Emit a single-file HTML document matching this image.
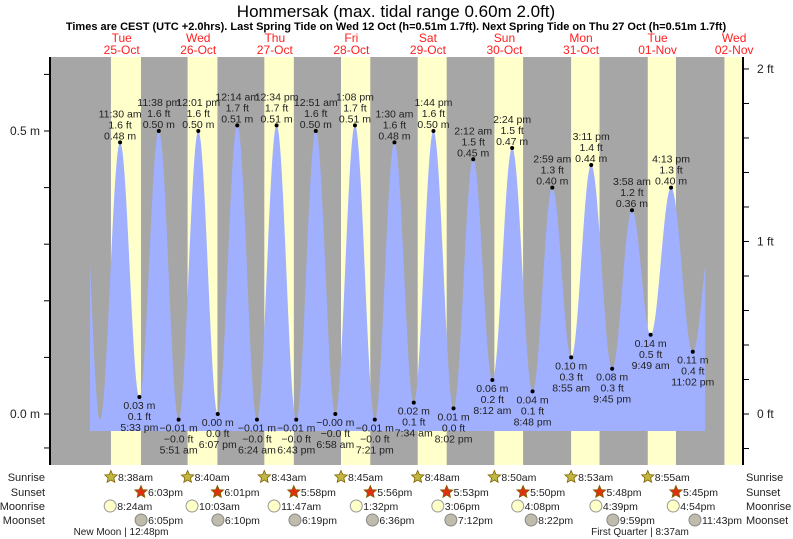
<!DOCTYPE html>
<html><head><meta charset="utf-8"><style>
html,body{margin:0;padding:0;background:#fff;}
svg{display:block;font-family:"Liberation Sans",sans-serif;}
</style></head><body>
<svg id="chart" width="793" height="539" viewBox="0 0 793 539" xmlns="http://www.w3.org/2000/svg">
<text x="396" y="17" font-size="17" text-anchor="middle" fill="#000">Hommersak (max. tidal range 0.60m 2.0ft)</text>
<text x="396" y="30" font-size="11" font-weight="bold" text-anchor="middle" fill="#000">Times are CEST (UTC +2.0hrs). Last Spring Tide on Wed 12 Oct (h=0.51m 1.7ft). Next Spring Tide on Thu 27 Oct (h=0.51m 1.7ft)</text>
<g id="plot"></g>
</svg>
<script>
// Data (hours since 25-Oct 00:00 local)
const dayNames = ["Tue","Wed","Thu","Fri","Sat","Sun","Mon","Tue","Wed"];
const dayDates = ["25-Oct","26-Oct","27-Oct","28-Oct","29-Oct","30-Oct","31-Oct","01-Nov","02-Nov"];
const sunriseHours = [8.633,8.667,8.717,8.75,8.8,8.833,8.883,8.917,8.95];
const sunsetHours = [18.05,18.017,17.967,17.933,17.883,17.833,17.8,17.75,17.7];
const sunriseLabels = ["8:38am","8:40am","8:43am","8:45am","8:48am","8:50am","8:53am","8:55am"];
const sunsetLabels = ["6:03pm","6:01pm","5:58pm","5:56pm","5:53pm","5:50pm","5:48pm","5:45pm"];
const moonriseHours = [8.4,10.05,11.783,13.533,15.1,16.133,16.65,16.9];
const moonriseLabels = ["8:24am","10:03am","11:47am","1:32pm","3:06pm","4:08pm","4:39pm","4:54pm"];
const moonsetHours = [18.083,18.167,18.317,18.6,19.2,20.367,21.983,23.717];
const moonsetLabels = ["6:05pm","6:10pm","6:19pm","6:36pm","7:12pm","8:22pm","9:59pm","11:43pm"];
const tideHours = [-0.5,5.2,11.5,17.55,23.633,29.85,36.017,42.117,48.233,54.4,60.567,66.717,72.85,78.967,85.133,91.35,97.5,103.567,109.733,116.033,122.2,128.2,134.4,140.8,146.983,152.917,159.183,165.75,171.967,177.817,184.217,191.033,197.2];
const tideHeights = [0.47,-0.01,0.48,0.03,0.50,-0.01,0.50,0.00,0.51,-0.01,0.51,-0.01,0.50,-0.00,0.51,-0.01,0.48,0.02,0.50,0.01,0.45,0.06,0.47,0.04,0.40,0.10,0.44,0.08,0.36,0.14,0.40,0.11,0.33];
const tideTimeLabels = ["","","11:30 am","5:33 pm","11:38 pm","5:51 am","12:01 pm","6:07 pm","12:14 am","6:24 am","12:34 pm","6:43 pm","12:51 am","6:58 am","1:08 pm","7:21 pm","1:30 am","7:34 am","1:44 pm","8:02 pm","2:12 am","8:12 am","2:24 pm","8:48 pm","2:59 am","8:55 am","3:11 pm","9:45 pm","3:58 am","9:49 am","4:13 pm","11:02 pm",""];
const tideFtLabels = ["","","1.6 ft","0.1 ft","1.6 ft","\u22120.0 ft","1.6 ft","0.0 ft","1.7 ft","\u22120.0 ft","1.7 ft","\u22120.0 ft","1.6 ft","\u22120.0 ft","1.7 ft","\u22120.0 ft","1.6 ft","0.1 ft","1.6 ft","0.0 ft","1.5 ft","0.2 ft","1.5 ft","0.1 ft","1.3 ft","0.3 ft","1.4 ft","0.3 ft","1.2 ft","0.5 ft","1.3 ft","0.4 ft",""];
const tideMLabels = ["","","0.48 m","0.03 m","0.50 m","\u22120.01 m","0.50 m","0.00 m","0.51 m","\u22120.01 m","0.51 m","\u22120.01 m","0.50 m","\u22120.00 m","0.51 m","\u22120.01 m","0.48 m","0.02 m","0.50 m","0.01 m","0.45 m","0.06 m","0.47 m","0.04 m","0.40 m","0.10 m","0.44 m","0.08 m","0.36 m","0.14 m","0.40 m","0.11 m",""];
const curveStart = 2.07, curveEnd = 194.9;

const NS="http://www.w3.org/2000/svg";
const g=document.getElementById('plot');
const X0=50,X1=743,Y0=57,Y1=465;
const x=t=>83.4+t*3.19;
const y=m=>414-m*566;
function mk(tag,attrs,parent){const e=document.createElementNS(NS,tag);for(const k in attrs)e.setAttribute(k,attrs[k]);(parent||g).appendChild(e);return e;}
function txt(s,px,py,attrs){const e=mk('text',Object.assign({x:px,y:py,'font-size':10.5,'text-anchor':'middle',fill:'#222'},attrs||{}));e.textContent=s;return e;}

let bg=mk('rect',{x:X0,y:Y0,width:X1-X0,height:Y1-Y0,fill:'#a6a6a6'});


for(let d=0;d<dayNames.length;d++){
  const a=x(d*24+sunriseHours[d]);const b=Math.min(X1,x(d*24+sunsetHours[d]));
  if(a<X1){let r=mk('rect',{x:a,y:Y0,width:b-a,height:Y1-Y0,fill:'#ffffcc'});
  
  }
  const cx=x(d*24+12);
  let t1=txt(dayNames[d],cx,42,{'font-size':12,fill:'#ff2020'});
  
  
  let t2=txt(dayDates[d],cx,54,{'font-size':12,fill:'#ff2020'});
  
  
}
function h(t){for(let i=0;i<tideHours.length-1;i++){if(t>=tideHours[i]&&t<=tideHours[i+1]){const f=(t-tideHours[i])/(tideHours[i+1]-tideHours[i]);return tideHeights[i]+(tideHeights[i+1]-tideHeights[i])*(1-Math.cos(Math.PI*f))/2;}}return 0;}
let d='M'+x(curveStart)+' 431';
for(let t=curveStart;t<=curveEnd;t+=0.1)d+=' L'+x(t).toFixed(2)+' '+y(h(t)).toFixed(2);
d+=' L'+x(curveEnd)+' '+y(h(curveEnd))+' L'+x(curveEnd)+' 431 Z';
let area=mk('path',{d:d,fill:'#a0b0ff'});


for(let i=0;i<tideHours.length;i++){
  if(!tideTimeLabels[i])continue;
  const px=x(tideHours[i]),py=y(tideHeights[i]);
  const high=i>0&&tideHeights[i]>tideHeights[i-1];
  let dot=mk('circle',{cx:px,cy:py,r:2,fill:'#000'});
  
  
  let lines=high?[tideTimeLabels[i],tideFtLabels[i],tideMLabels[i]]:[tideMLabels[i],tideFtLabels[i],tideTimeLabels[i]];
  let base=high?py-25:py+12;
  lines.forEach((s,k)=>{let e=txt(s,px,base+k*11);
    
    });
}
let la=mk('line',{x1:X0,y1:Y0,x2:X0,y2:Y1,stroke:'#000','stroke-width':2});


let ra=mk('line',{x1:X1,y1:Y0,x2:X1,y2:Y1,stroke:'#000','stroke-width':2});


for(let k=0;k<=0.6001;k+=0.1){const yy=y(k);mk('line',{x1:X0-6,y1:yy,x2:X0,y2:yy,stroke:'#000'});}
mk('line',{x1:X0-6,y1:y(-0.06),x2:X0,y2:y(-0.06),stroke:'#000'});
let l1=txt('0.5 m',40,y(0.5)+4,{'text-anchor':'end','font-size':12});


let l2=txt('0.0 m',40,y(0)+4,{'text-anchor':'end','font-size':12});


for(let f=-0.2;f<=2.01;f+=0.2){const yy=y(f*0.3048);mk('line',{x1:X1,y1:yy,x2:X1+6,y2:yy,stroke:'#000'});}
["0 ft","1 ft","2 ft"].forEach((s,k)=>{let e=txt(s,757,y(k*0.3048)+4,{'text-anchor':'start','font-size':12});
  
  });
const rowY=[477,492,506,520];
["Sunrise","Sunset","Moonrise","Moonset"].forEach((s,k)=>{
  let a=txt(s,45,rowY[k]+4,{'text-anchor':'end','font-size':11,fill:'#222'});
  
  
  let b=txt(s,746,rowY[k]+4,{'text-anchor':'start','font-size':11,fill:'#222'});
  
  
});
function star(cx,cy,fill){let p='';for(let i=0;i<10;i++){const r=i%2?3:6.5;const a=-Math.PI/2+i*Math.PI/5;p+=(cx+r*Math.cos(a)).toFixed(1)+','+(cy+r*Math.sin(a)).toFixed(1)+' ';}return mk('polygon',{points:p,fill:fill,stroke:'#806000','stroke-width':0.8});}
for(let i=0;i<8;i++){
  let sx=x(i*24+sunriseHours[i]);
  let s1=star(sx,rowY[0],'#c0b840');
  
  
  let a=txt(sunriseLabels[i],sx+7,rowY[0]+4,{'text-anchor':'start'});
  
  
  let ux=x(i*24+sunsetHours[i]);
  let s2=star(ux,rowY[1],'#e03010');
  
  
  let b=txt(sunsetLabels[i],ux+7,rowY[1]+4,{'text-anchor':'start'});
  
  
  let mx=x(i*24+moonriseHours[i]);
  let c1=mk('circle',{cx:mx,cy:rowY[2],r:6,fill:'#ffffc8',stroke:'#999'});
  
  
  let c=txt(moonriseLabels[i],mx+7,rowY[2]+4,{'text-anchor':'start'});
  
  
  let nx=x(i*24+moonsetHours[i]);
  let c2=mk('circle',{cx:nx,cy:rowY[3],r:6,fill:'#c0bcac',stroke:'#888'});
  
  
  let e=txt(moonsetLabels[i],nx+7,rowY[3]+4,{'text-anchor':'start'});
  
  
}
let p1=txt('New Moon | 12:48pm',121,535,{'font-size':10});


let p2=txt('First Quarter | 8:37am',640,535,{'font-size':10});


</script>
</body></html>
